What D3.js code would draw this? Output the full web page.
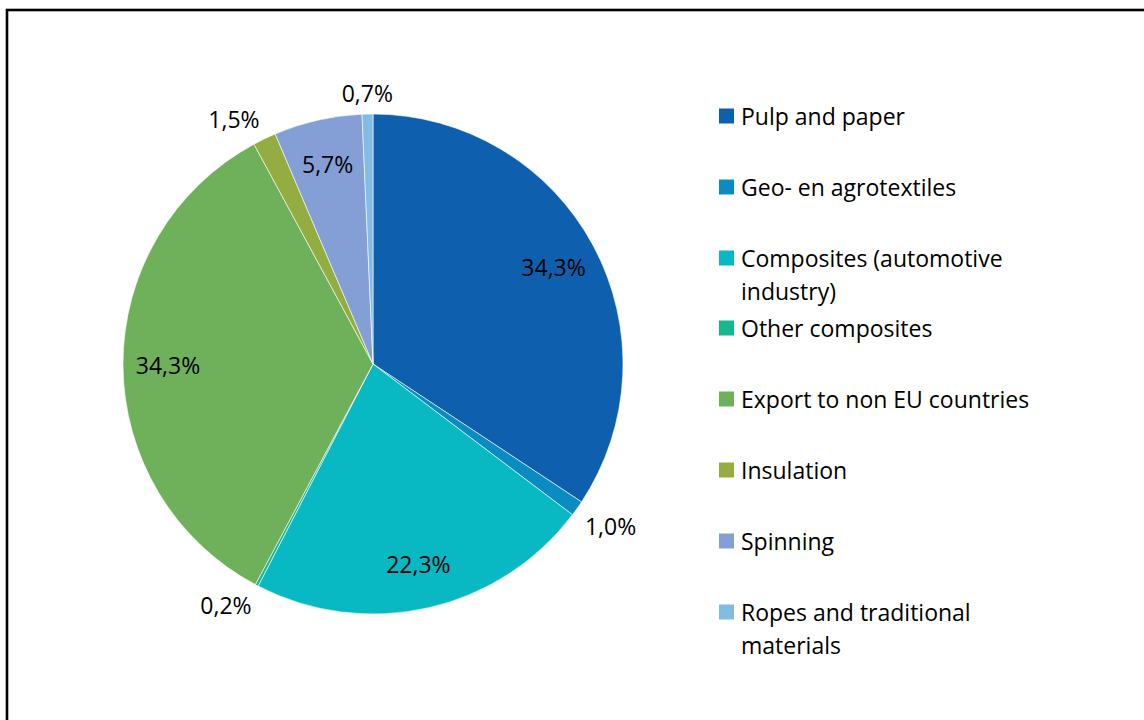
<!DOCTYPE html>
<html>
<head>
<meta charset="utf-8">
<script src="https://cdn.jsdelivr.net/npm/d3@7"></script>
<style>
  html, body { margin: 0; padding: 0; background: #fff; }
  svg { display: block; }
  text { font-family: "Open Sans", "Noto Sans", sans-serif; fill: #000; }
</style>
</head>
<body>
<svg id="chart" width="1144" height="720"></svg>
<script>
// ---- data ----
const categories = [
  "Pulp and paper",
  "Geo- en agrotextiles",
  "Composites (automotive industry)",
  "Other composites",
  "Export to non EU countries",
  "Insulation",
  "Spinning",
  "Ropes and traditional materials"
];
const values = [34.3, 1.0, 22.3, 0.2, 34.3, 1.5, 5.7, 0.7];
const valueLabels = ["34,3%", "1,0%", "22,3%", "0,2%", "34,3%", "1,5%", "5,7%", "0,7%"];
const legendLines = [
  ["Pulp and paper"],
  ["Geo- en agrotextiles"],
  ["Composites (automotive", "industry)"],
  ["Other composites"],
  ["Export to non EU countries"],
  ["Insulation"],
  ["Spinning"],
  ["Ropes and traditional", "materials"]
];
const colors = ["#0E5FAE", "#0A8BC2", "#08B8C2", "#14B78E", "#6EB15A", "#94AD40", "#839FD6", "#82BBE3"];

// ---- layout ----
const svg = d3.select("#chart");
const cx = 373, cy = 364, R = 250;

// frame
svg.append("rect")
  .attr("x", 7).attr("y", 10)
  .attr("width", 1160).attr("height", 740)
  .attr("fill", "none").attr("stroke", "#000").attr("stroke-width", 2.6);

const pie = d3.pie().sort(null).value(d => d.v);
const data = categories.map((c, i) => ({ c, v: values[i], lab: valueLabels[i], i }));
const arcs = pie(data);
const arc = d3.arc().innerRadius(0).outerRadius(R);

const g = svg.append("g").attr("transform", `translate(${cx},${cy})`);
g.selectAll("path.slice")
  .data(arcs)
  .join("path")
  .attr("class", "slice")
  .attr("d", arc)
  .attr("fill", d => colors[d.data.i])
  .attr("stroke", "#fff")
  .attr("stroke-width", 0.6);

// labels: inside for large slices, outside for small ones
const fontSize = 23;
const labelG = g.append("g");
arcs.forEach(d => {
  const a = (d.startAngle + d.endAngle) / 2;
  const s = Math.sin(a), c = -Math.cos(a);
  const inside = d.data.v >= 5;
  let x, y;
  if (inside) {
    const r = R * 0.82;
    x = r * s; y = r * c;
  } else {
    const r = R + 8;
    const w = 54, h = 26;
    x = r * s + Math.sign(s) * w / 2 * (Math.abs(s) > 0.05 ? 1 : 0);
    y = r * c + Math.sign(c) * h / 2;
  }
  labelG.append("text")
    .attr("x", x).attr("y", y)
    .attr("text-anchor", "middle")
    .attr("dominant-baseline", "central")
    .attr("font-size", fontSize)
    .text(d.data.lab);
});

// legend
const legend = svg.append("g").attr("transform", "translate(719,0)");
const rowY = [116, 187, 258, 328, 399, 470, 541, 612];
legendLines.forEach((lines, i) => {
  const gy = rowY[i];
  legend.append("rect")
    .attr("x", 0).attr("y", gy - 7.5)
    .attr("width", 15).attr("height", 15)
    .attr("fill", colors[i]);
  lines.forEach((t, j) => {
    legend.append("text")
      .attr("x", 22).attr("y", gy + j * 33)
      .attr("dominant-baseline", "central")
      .attr("font-size", fontSize)
      .text(t);
  });
});
</script>
</body>
</html>
